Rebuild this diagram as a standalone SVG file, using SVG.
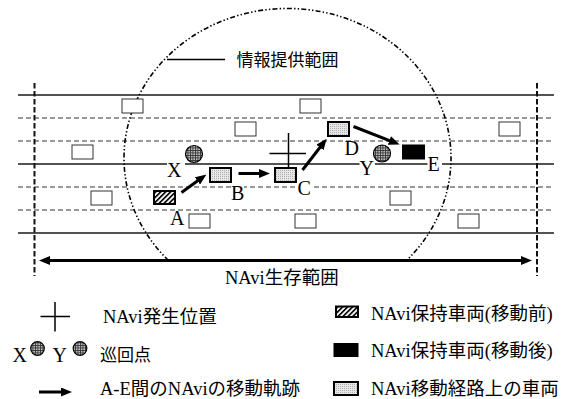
<svg xmlns="http://www.w3.org/2000/svg" width="564" height="399" viewBox="0 0 564 399">
<style>
.solid{stroke:#1a1a1a;stroke-width:1.5;fill:none}
.lane{stroke:#777;stroke-width:1.3;stroke-dasharray:5 3;fill:none}
.edge{stroke:#111;stroke-width:2;stroke-dasharray:5.5 2.5;fill:none}
.car{fill:#fff;stroke:#333;stroke-width:1}
.hatch{fill:url(#hatch);stroke:#000;stroke-width:2}
.route{fill:url(#dots);stroke:#000;stroke-width:2}
.after{fill:#000;stroke:#000;stroke-width:1}
.patrol{fill:url(#grid);stroke:#000;stroke-width:1.2}
.arrow{stroke:#000;stroke-width:3;fill:none;marker-end:url(#ah)}
.lbl{font-family:"Liberation Serif","Times New Roman",serif;font-size:20px;fill:#000}
.txt{font-family:"Liberation Serif","Noto Sans CJK JP",serif;font-size:18.5px;fill:#000}
.jp{font-family:"Noto Sans CJK JP","Noto Sans CJK SC",sans-serif;font-size:17px;fill:#000}
.mask{fill:#fff}
.thin{stroke:#000;stroke-width:1.5;fill:none}
</style>
<defs>
<pattern id="hatch" width="3.5" height="3.5" patternUnits="userSpaceOnUse" patternTransform="rotate(45)">
<rect width="3.5" height="3.5" fill="#fff"/>
<rect width="1.6" height="3.5" fill="#000"/>
</pattern>
<pattern id="dots" width="2" height="2" patternUnits="userSpaceOnUse">
<rect width="2" height="2" fill="#e6e6e6"/>
<rect width="1" height="1" fill="#b0b0b0"/>
</pattern>
<pattern id="grid" width="2.5" height="2.5" patternUnits="userSpaceOnUse">
<rect width="2.5" height="2.5" fill="#c8c8c8"/>
<rect width="2.5" height="0.9" fill="#333"/>
<rect width="0.9" height="2.5" fill="#333"/>
</pattern>
<marker id="ah" viewBox="0 0 11 9" refX="5" refY="4.5" markerWidth="11" markerHeight="9" markerUnits="userSpaceOnUse" orient="auto-start-reverse">
<path d="M0,0 L11,4.5 L0,9 z" fill="#000"/>
</marker>
</defs>

<g id="road">
<line class="solid" x1="18" y1="95" x2="554" y2="95"/>
<line class="lane" x1="18" y1="118" x2="554" y2="118"/>
<line class="lane" x1="18" y1="141" x2="554" y2="141"/>
<line class="solid" x1="18" y1="164" x2="554" y2="164"/>
<line class="lane" x1="18" y1="187" x2="554" y2="187"/>
<line class="lane" x1="18" y1="210" x2="554" y2="210"/>
<line class="solid" x1="18" y1="233" x2="554" y2="233"/>
<line class="edge" x1="34.5" y1="83" x2="34.5" y2="276"/>
<line class="edge" x1="537" y1="83" x2="537" y2="276"/>
</g>

<g id="info-range">
<path d="M168.5,260.5 A163.5,149.5 0 1 1 406.5,260.5" fill="none" stroke="#000" stroke-width="1.6" stroke-dasharray="5 2.2 1.4 2.2 1.4 2.2"/>
<line class="thin" x1="167" y1="59.5" x2="225" y2="59.5" stroke-width="1.2"/>
<text class="jp" x="236.5" y="66" font-size="17.5">情報提供範囲</text>
</g>

<g id="vehicles">
<rect class="car" x="122" y="99" width="21" height="14"/>
<rect class="car" x="300" y="99" width="21" height="14"/>
<rect class="car" x="235" y="122" width="21" height="14"/>
<rect class="car" x="499" y="122" width="21" height="14"/>
<rect class="car" x="72" y="145" width="21" height="14"/>
<rect class="car" x="91" y="191" width="21" height="14"/>
<rect class="car" x="390" y="191" width="21" height="14"/>
<rect class="car" x="189" y="214" width="21" height="14"/>
<rect class="car" x="295" y="214" width="21" height="14"/>
<rect class="car" x="458" y="214" width="21" height="14"/>
</g>

<g id="origin">
<line class="thin" x1="288.5" y1="133" x2="288.5" y2="168"/>
<line class="thin" x1="269.5" y1="153.5" x2="306" y2="153.5"/>
</g>

<g id="patrol-X">
<circle class="patrol" cx="194" cy="154" r="8.5"/>
<rect class="mask" x="167" y="161" width="18" height="16"/>
<text class="lbl" x="167" y="176.5">X</text>
</g>
<g id="patrol-Y">
<circle class="patrol" cx="382" cy="153.5" r="8.5"/>
<rect class="mask" x="359.5" y="160.5" width="15.5" height="15"/>
<text class="lbl" x="359.5" y="175">Y</text>
</g>

<g id="node-A">
<rect class="hatch" x="154" y="191" width="21" height="13"/>
<text class="lbl" x="170" y="225">A</text>
</g>
<g id="node-B">
<rect class="route" x="210" y="168" width="21" height="14"/>
<rect class="mask" x="231" y="186" width="13" height="14"/>
<text class="lbl" x="231" y="200">B</text>
</g>
<g id="node-C">
<rect class="route" x="275" y="168" width="21" height="14"/>
<rect class="mask" x="297.5" y="181.5" width="14" height="14"/>
<text class="lbl" x="297.5" y="195">C</text>
</g>
<g id="node-D">
<rect class="route" x="328" y="122" width="21" height="14"/>
<text class="lbl" x="344.5" y="155">D</text>
</g>
<g id="node-E">
<rect class="after" x="402.5" y="145" width="22" height="14"/>
<rect class="mask" x="427.5" y="157.5" width="14.5" height="14"/>
<text class="lbl" x="427.5" y="171">E</text>
</g>

<g id="connectors">
<line class="arrow" x1="181.5" y1="192.5" x2="201.5" y2="178"/>
<line class="arrow" x1="238.5" y1="173.5" x2="264" y2="173.5"/>
<line class="arrow" x1="302.5" y1="170" x2="323" y2="143.5"/>
<line class="arrow" x1="353.5" y1="126.5" x2="394" y2="142.3"/>
</g>

<g id="survival-range">
<line stroke="#000" stroke-width="3" x1="45" y1="260.5" x2="526" y2="260.5" marker-start="url(#ah)" marker-end="url(#ah)"/>
<text class="txt" x="225" y="283.5">NAvi生存範囲</text>
</g>

<g id="legend">
<g id="leg-origin">
<line class="thin" x1="55" y1="302" x2="55" y2="331.5"/>
<line class="thin" x1="40.5" y1="316.5" x2="70" y2="316.5"/>
<text class="txt" x="103" y="323">NAvi発生位置</text>
</g>
<g id="leg-patrol">
<text class="lbl" x="12.5" y="362">X</text>
<circle class="patrol" cx="37.5" cy="348.5" r="6.8"/>
<text class="lbl" x="52.5" y="362">Y</text>
<circle class="patrol" cx="80" cy="348.5" r="6.8"/>
<text class="jp" x="100" y="361" font-size="17.5">巡回点</text>
</g>
<g id="leg-route">
<line class="arrow" x1="39" y1="392" x2="66" y2="392"/>
<text class="txt" x="100" y="394.5">A-E間のNAviの移動軌跡</text>
</g>
<g id="leg-hatch">
<rect class="hatch" x="336" y="306.5" width="22" height="10.5" stroke-width="1"/>
<text class="txt" x="371" y="320">NAvi保持車両(移動前)</text>
</g>
<g id="leg-after">
<rect class="after" x="334" y="343.5" width="24" height="13"/>
<text class="txt" x="371" y="357">NAvi保持車両(移動後)</text>
</g>
<g id="leg-onroute">
<rect class="route" x="334" y="382" width="24" height="13" stroke-width="1"/>
<text class="txt" x="371" y="394.5">NAvi移動経路上の車両</text>
</g>
</g>
</svg>
